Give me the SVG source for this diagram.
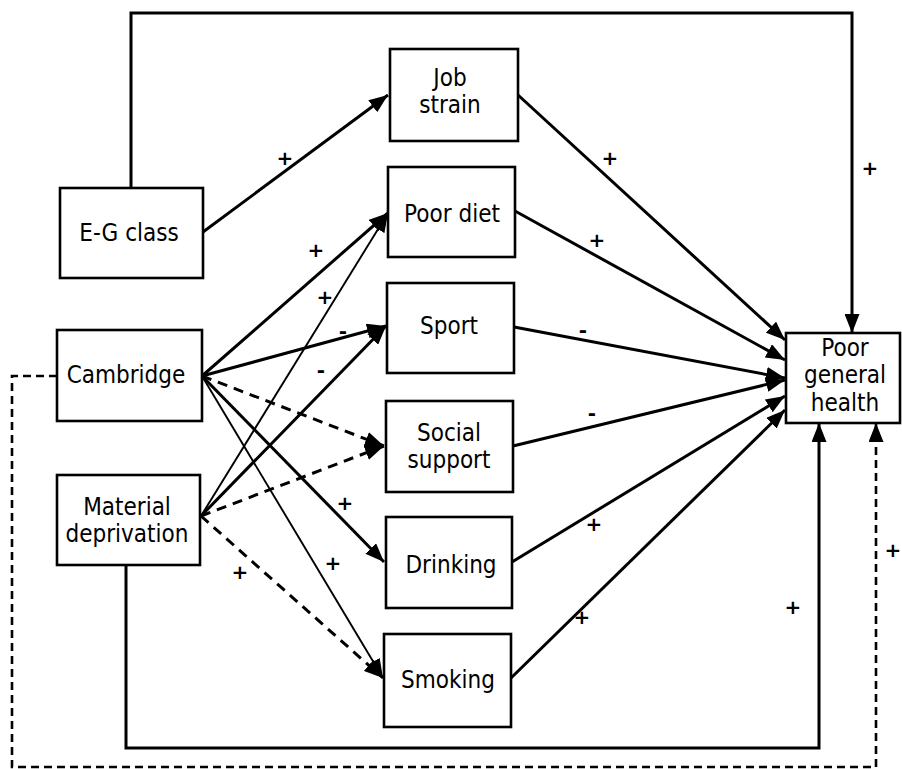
<svg xmlns="http://www.w3.org/2000/svg" width="902" height="769" viewBox="0 0 902 769">
<style>
.box{fill:#fff;stroke:#000;stroke-width:2.6}
.t{font-family:"DejaVu Sans Condensed","DejaVu Sans",sans-serif;font-stretch:condensed;font-size:24px;fill:#000;text-anchor:middle}
.c{fill:none;stroke:#000;stroke-width:3}
.thin{fill:none;stroke:#000;stroke-width:1.9}
.d{fill:none;stroke:#000;stroke-width:3;stroke-dasharray:10 7}
.d2{fill:none;stroke:#000;stroke-width:2.6;stroke-dasharray:8 5}
.l{font-family:"DejaVu Sans",sans-serif;font-size:20px;font-weight:bold;fill:#000;text-anchor:middle;dominant-baseline:central}
</style>
<defs>
<marker id="a" markerUnits="userSpaceOnUse" markerWidth="20" markerHeight="15" refX="19" refY="7.5" orient="auto">
<path d="M0,0 L19,7.5 L0,15 z" fill="#000"/>
</marker>
</defs>
<rect width="902" height="769" fill="#fff"/>
<g id="connectors">
<path class="c" d="M131,188 V13 H852 V333" marker-end="url(#a)"/>
<path class="c" d="M203,232 L388,95" marker-end="url(#a)"/>
<path class="c" d="M202,376 L388,213" marker-end="url(#a)"/>
<path class="thin" d="M201,516 L388,213" marker-end="url(#a)"/>
<path class="c" d="M202,376 L386,326" marker-end="url(#a)"/>
<path class="c" d="M201,516 L386,326" marker-end="url(#a)"/>
<path class="d" d="M202,376 L384,446" marker-end="url(#a)"/>
<path class="d" d="M201,516 L384,446" marker-end="url(#a)"/>
<path class="c" d="M202,376 L384,562" marker-end="url(#a)"/>
<path class="thin" d="M202,376 L383,678" marker-end="url(#a)"/>
<path class="d" d="M201,516 L383,678" marker-end="url(#a)"/>
<path class="c" d="M518,95 L785,340" marker-end="url(#a)"/>
<path class="c" d="M515,211 L785,360" marker-end="url(#a)"/>
<path class="c" d="M514,327 L785,378" marker-end="url(#a)"/>
<path class="c" d="M513,446 L785,380" marker-end="url(#a)"/>
<path class="c" d="M512,562 L785,396" marker-end="url(#a)"/>
<path class="c" d="M511,678 L785,410" marker-end="url(#a)"/>
<path class="c" d="M126,565 V748 H819 V423" marker-end="url(#a)"/>
<path class="d2" d="M57,376 H12 V767 H876 V423" marker-end="url(#a)"/>
<text class="l" x="285" y="158">+</text>
<text class="l" x="316" y="250">+</text>
<text class="l" x="325" y="297">+</text>
<text class="l" x="343" y="331">-</text>
<text class="l" x="321" y="370">-</text>
<text class="l" x="345" y="503">+</text>
<text class="l" x="333" y="563">+</text>
<text class="l" x="240" y="572">+</text>
<text class="l" x="610" y="158">+</text>
<text class="l" x="597" y="240">+</text>
<text class="l" x="583" y="330">-</text>
<text class="l" x="592" y="413">-</text>
<text class="l" x="594" y="524">+</text>
<text class="l" x="582" y="617">+</text>
<text class="l" x="870" y="168">+</text>
<text class="l" x="793" y="607">+</text>
<text class="l" x="893" y="550">+</text>
</g>
<g id="eg-class"><rect class="box" x="60" y="188" width="143" height="90"/><text class="t" x="129" y="241">E-G class</text></g>
<g id="cambridge"><rect class="box" x="57" y="330" width="145" height="91"/><text class="t" x="126" y="383">Cambridge</text></g>
<g id="material-deprivation"><rect class="box" x="57" y="475" width="143" height="90"/><text class="t" x="127" y="515">Material</text><text class="t" x="127" y="542">deprivation</text></g>
<g id="job-strain"><rect class="box" x="390" y="49" width="128" height="92"/><text class="t" x="450" y="86">Job</text><text class="t" x="450" y="113">strain</text></g>
<g id="poor-diet"><rect class="box" x="388" y="167" width="127" height="90"/><text class="t" x="452" y="222">Poor diet</text></g>
<g id="sport"><rect class="box" x="387" y="283" width="127" height="90"/><text class="t" x="449" y="334">Sport</text></g>
<g id="social-support"><rect class="box" x="386" y="401" width="127" height="91"/><text class="t" x="449" y="441">Social</text><text class="t" x="449" y="468">support</text></g>
<g id="drinking"><rect class="box" x="386" y="517" width="126" height="91"/><text class="t" x="451" y="573">Drinking</text></g>
<g id="smoking"><rect class="box" x="384" y="634" width="127" height="93"/><text class="t" x="448" y="688">Smoking</text></g>
<g id="poor-general-health"><rect class="box" x="786" y="333" width="114" height="90"/><text class="t" x="845" y="356">Poor</text><text class="t" x="845" y="383">general</text><text class="t" x="845" y="411">health</text></g>
</svg>
